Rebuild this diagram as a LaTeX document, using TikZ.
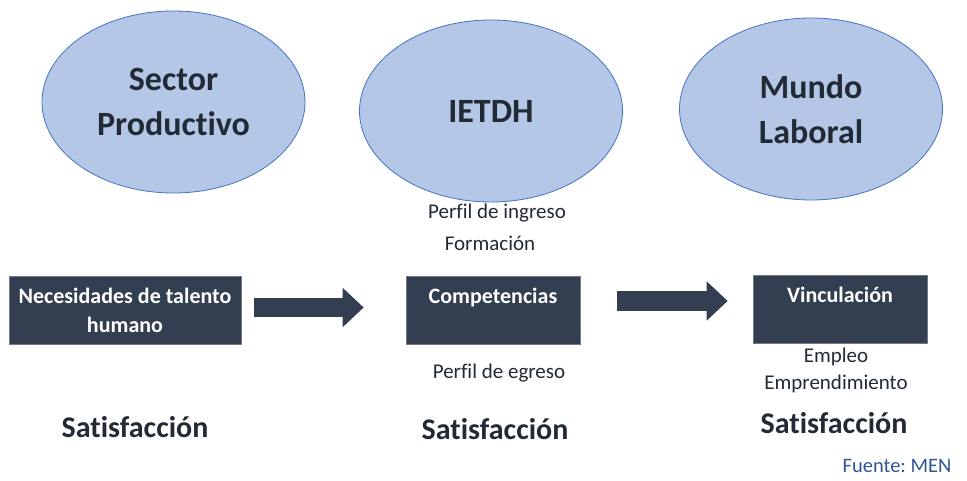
\documentclass[tikz,border=0pt]{standalone}
\usepackage{fontspec}
\setmainfont{Carlito}[Ligatures=NoCommon]
\frenchspacing
\usetikzlibrary{shapes.geometric,arrows.meta}
\definecolor{elipfill}{HTML}{B4C7E7}
\definecolor{elipline}{HTML}{4472C4}
\definecolor{cajafill}{HTML}{333F50}
\definecolor{textgris}{HTML}{222A35}
\definecolor{fuenteazul}{HTML}{2F5597}
\begin{document}
\begin{tikzpicture}[x=1pt, y=-1pt,
    actor/.style={ellipse, fill=elipfill, draw=elipline, line width=0.8pt,
        minimum width=263pt, minimum height=182pt, inner sep=0pt,
        align=center, text=textgris, font=\bfseries\fontsize{34}{45}\selectfont},
    caja/.style={rectangle, fill=cajafill, draw=cajafill!70!white, line width=0.6pt,
        minimum height=68pt, inner sep=0pt, align=center, text=white,
        font=\bfseries\fontsize{22}{29}\selectfont},
    nota/.style={align=center, text=textgris, font=\fontsize{21}{27}\selectfont},
    satis/.style={text=textgris, font=\bfseries\fontsize{30}{36}\selectfont},
    flecha/.style={draw=cajafill, line width=19pt,
        -{Triangle[length=21pt, width=38pt]}}]
\useasboundingbox (0,0) rectangle (967,481);
% actores
\node[actor] (sector) at (173.5,102) {Sector\\Productivo};
\node[actor] (ietdh)  at (491,111) {IETDH};
\node[actor] (mundo)  at (811,109) {Mundo\\Laboral};
% cajas
\node[caja, minimum width=232pt] (necesidad) at (125,310) {Necesidades de talento\\humano};
\node[caja, minimum width=174pt] (compet) at (493,310) {Competencias\\\mbox{}};
\node[caja, minimum width=174pt] (vincul) at (840,309) {Vinculación\\\mbox{}};
% flechas
\draw[flecha, shorten <=13pt, shorten >=42pt]
    ([yshift=2.5pt]necesidad.east) -- ([yshift=2.5pt]compet.west);
\draw[flecha, shorten <=37pt, shorten >=25pt]
    ([yshift=9pt]compet.east) -- ([yshift=8pt]vincul.west);
% textos
\node[nota] (ingreso) at (497,213) {Perfil de ingreso};
\node[nota] (formacion) at (490,243) {Formación};
\node[nota] (egreso) at (499,373) {Perfil de egreso};
\node[nota] (empleo) at (836,370) {Empleo\\Emprendimiento};
\node[satis] (satis1) at (135,427) {Satisfacción};
\node[satis] (satis2) at (495,429) {Satisfacción};
\node[satis] (satis3) at (834,423) {Satisfacción};
\node[text=fuenteazul, font=\fontsize{20.5}{24}\selectfont] (fuente) at (897,466) {Fuente: MEN};
\end{tikzpicture}
\end{document}
